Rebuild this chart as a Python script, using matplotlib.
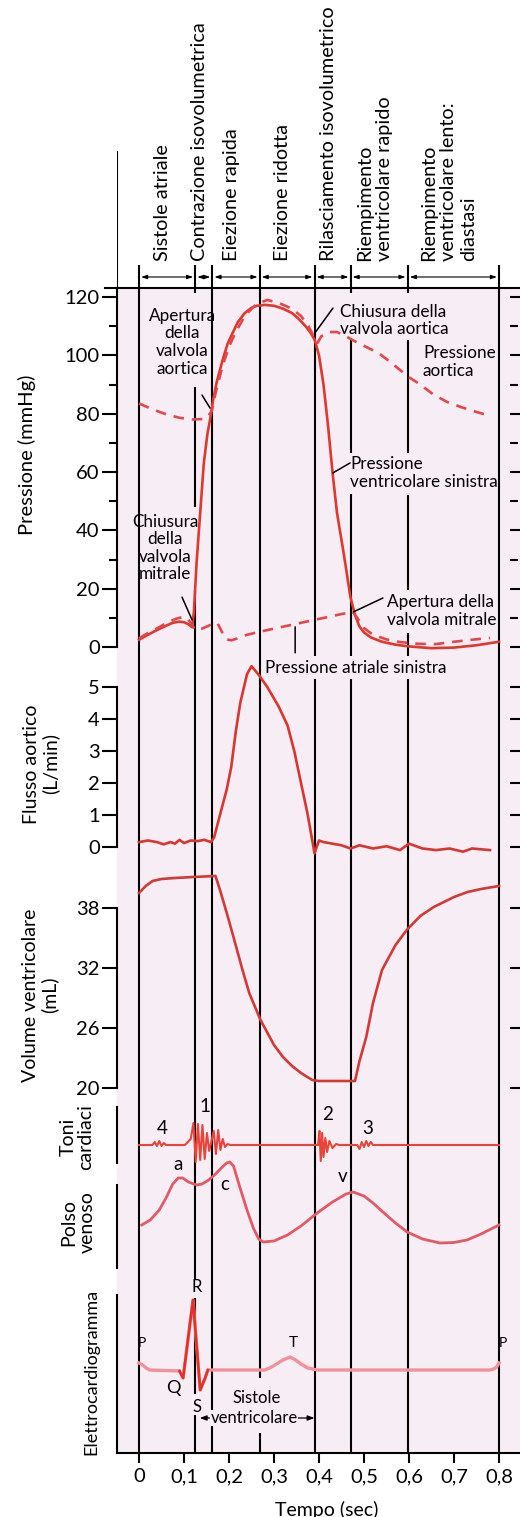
import matplotlib.pyplot as plt
from matplotlib.patches import Rectangle

plt.rcParams['font.family'] = ['Lato', 'DejaVu Sans']

W, H = 520, 1517
T0_PX, PX_PER_S = 139, 450      # horizontal time scale shared by every panel
LEFT_PX, RIGHT_PX = 117, 520
BG = '#f7edf4'
RED = '#e0382d'

# cardiac cycle phases (s)
phase_t = [0, 0.125, 0.163, 0.268, 0.39, 0.47, 0.597, 0.8]
phase_names = ['Sistole atriale', 'Contrazione isovolumetrica', 'Eiezione rapida',
               'Eiezione ridotta', 'Rilasciamento isovolumetrico',
               'Riempimento\nventricolare rapido',
               'Riempimento\nventricolare lento:\ndiastasi']
# vertical gaps (px) left in each phase line where labels sit
phase_gaps = [[], [(293, 387), (507, 590), (1280, 1298), (1394, 1415)], [],
              [(1378, 1433)], [(656, 679)],
              [(293, 340), (453, 494), (656, 679)],
              [(293, 340), (453, 495), (590, 633), (656, 679)], []]

# left ventricular pressure (mmHg)
lv_t = [0.0, 0.02, 0.04, 0.06, 0.075, 0.09, 0.1, 0.11, 0.118, 0.122, 0.128, 0.136,
        0.144, 0.152, 0.158, 0.165, 0.173, 0.185, 0.197, 0.209, 0.22, 0.235, 0.25,
        0.262, 0.28, 0.3, 0.32, 0.34, 0.355, 0.37, 0.38, 0.39, 0.4, 0.41, 0.42, 0.43,
        0.44, 0.455, 0.47, 0.48, 0.49, 0.5, 0.515, 0.54, 0.57, 0.6, 0.65, 0.7, 0.75, 0.8]
lv_p = [2.5, 4.2, 5.8, 7.3, 8.3, 8.7, 8.5, 7.8, 6.8, 12, 29, 46,
        63, 73, 78, 85, 91, 98, 104, 108, 111.5, 114.5, 116.3,
        117, 117.3, 117, 116, 114.5, 112.5, 110, 108, 105.5, 100, 90, 76, 60,
        46, 32, 17, 11, 7, 5, 3.3, 1.8, 0.8, 0.2, -0.4, -0.2, 0.6, 1.8]

# aortic pressure (mmHg)
ao_t = [0.0, 0.03, 0.06, 0.09, 0.12, 0.145, 0.155, 0.162, 0.17, 0.185, 0.2, 0.215,
        0.235, 0.26, 0.285, 0.31, 0.34, 0.36, 0.375, 0.385, 0.392, 0.397, 0.405,
        0.42, 0.44, 0.46, 0.48, 0.51, 0.535, 0.56, 0.58, 0.6, 0.62, 0.655, 0.685,
        0.715, 0.745, 0.775]
ao_p = [83.5, 81.5, 79.8, 78.6, 78, 78.2, 79.5, 81, 87, 96, 103, 108,
        113.5, 117.5, 119, 118, 116, 113.5, 110.5, 107.5, 105, 104.3, 106.5,
        108, 108, 106.5, 104.8, 102.5, 100.5, 97.5, 95, 92.5, 90.5, 86.5, 84,
        82.3, 80.8, 79.5]

# left atrial pressure (mmHg)
la_t = [0.0, 0.02, 0.045, 0.065, 0.085, 0.098, 0.108, 0.118, 0.125, 0.14, 0.155,
        0.168, 0.175, 0.185, 0.195, 0.205, 0.22, 0.24, 0.27, 0.3, 0.33, 0.36, 0.39,
        0.42, 0.45, 0.475, 0.485, 0.5, 0.52, 0.55, 0.58, 0.62, 0.66, 0.7, 0.74, 0.78]
la_p = [3, 4.8, 6.8, 8.6, 9.8, 10.3, 9.8, 7.5, 5.8, 6.3, 7.3,
        8.4, 8, 5, 2.6, 2.3, 3, 4.2, 5.3, 6.3, 7.3, 8.3, 9.3,
        10.3, 11.3, 12, 10, 6.5, 4.2, 2.6, 1.7, 1.1, 1.0, 1.8, 2.5, 3.1]

# aortic flow (L/min)
fl_t = [0.0, 0.02, 0.04, 0.055, 0.07, 0.08, 0.09, 0.1, 0.115, 0.13, 0.145, 0.16,
        0.167, 0.18, 0.195, 0.205, 0.215, 0.225, 0.24, 0.25, 0.265, 0.285, 0.31,
        0.33, 0.345, 0.36, 0.375, 0.39, 0.4, 0.41, 0.43, 0.45, 0.47, 0.49, 0.52,
        0.55, 0.58, 0.6, 0.63, 0.66, 0.69, 0.72, 0.74, 0.78]
fl_v = [0.15, 0.2, 0.15, 0.08, 0.15, 0.1, 0.22, 0.12, 0.2, 0.18, 0.22, 0.15,
        0.3, 1.0, 1.8, 2.5, 3.6, 4.5, 5.4, 5.65, 5.4, 5.0, 4.4,
        3.8, 3.0, 2.0, 1.0, -0.2, 0.2, 0.15, 0.1, 0.05, -0.05, 0.05, -0.05,
        0.02, -0.1, 0.1, -0.05, -0.1, -0.05, -0.15, -0.05, -0.1]

# ventricular volume (mL)
vol_t = [0.0, 0.015, 0.03, 0.05, 0.08, 0.12, 0.17, 0.18, 0.195, 0.21, 0.23, 0.245,
         0.27, 0.3, 0.32, 0.34, 0.36, 0.385, 0.4, 0.48, 0.49, 0.505, 0.52, 0.54,
         0.57, 0.595, 0.625, 0.655, 0.7, 0.73, 0.76, 0.8]
vol_v = [39.5, 40.2, 40.7, 40.9, 41.0, 41.1, 41.2, 39.8, 37.5, 35.1, 31.8, 29.5,
         26.8, 24.3, 23.1, 22.2, 21.5, 20.8, 20.7, 20.7, 22.7, 25.1, 28.5, 31.8,
         34.3, 35.8, 37.2, 38.1, 39.1, 39.6, 39.9, 40.2]

# phonocardiogram (arbitrary units)
phono_t = [0.0, 0.03, 0.035, 0.04, 0.045, 0.05, 0.055, 0.06,
           0.102, 0.115, 0.121, 0.126, 0.131, 0.136, 0.141, 0.146, 0.151, 0.156,
           0.161, 0.166, 0.171, 0.176, 0.181, 0.186, 0.191, 0.197, 0.203,
           0.398, 0.401, 0.404, 0.407, 0.41, 0.414, 0.418, 0.423, 0.43, 0.438, 0.445,
           0.485, 0.49, 0.495, 0.5, 0.505, 0.51, 0.515, 0.52, 0.8]
phono_a = [0, 0, 3, -1, 4, -1, 2, 0,
           0, 6, 22, -17, 21, -15, 20, -14, 12, -6,
           4, 14, -9, 15, -5, 6, -2, 1, 0,
           0, 14, -16, 12, -12, 7, -7, 4, -3, 1, 0,
           0, -4, 3, -2, 4, -1, 3, 0, 0]
sound_labels = [('4', 0.051, 17), ('1', 0.147, 38), ('2', 0.418, 30), ('3', 0.509, 17)]

# jugular venous pulse (arbitrary units)
vp_t = [0.006, 0.025, 0.045, 0.06, 0.075, 0.087, 0.097, 0.11, 0.128, 0.14, 0.155,
        0.17, 0.185, 0.195, 0.202, 0.21, 0.224, 0.24, 0.254, 0.266, 0.276, 0.3,
        0.33, 0.36, 0.396, 0.43, 0.46, 0.476, 0.5, 0.52, 0.542, 0.57, 0.596, 0.63,
        0.669, 0.7, 0.729, 0.76, 0.8]
vp_v = [25, 30, 40, 52, 66, 72, 72, 68, 65, 66, 70,
        76, 83, 87, 88, 84, 63, 40, 22, 11, 8, 9,
        15, 24, 37, 48, 56, 58, 54, 47, 38, 27, 18, 11,
        7, 7.5, 10, 16, 25]
vp_labels = [('a', 0.087, 85), ('c', 0.191, 65), ('v', 0.453, 73)]

# electrocardiogram (arbitrary units)
ecg_t = [0.0, 0.008, 0.016, 0.024, 0.09, 0.098, 0.12, 0.136, 0.147, 0.153, 0.28,
         0.29, 0.302, 0.32, 0.336, 0.348, 0.36, 0.375, 0.396, 0.78, 0.788, 0.795, 0.8]
ecg_v = [7, 5, 2, 0, -1, -8, 70, -20, -8, 0, 0,
         2, 5, 10, 13, 10, 6, 2, 0, 0, 1, 3, 7]
ecg_labels = [('P', 0.007, 27, 10), ('Q', 0.076, -18, 13), ('R', 0.129, 83, 12),
              ('S', 0.129, -37, 12), ('T', 0.342, 27, 11), ('P', 0.809, 27, 10)]

time_ticks = [0, 0.1, 0.2, 0.3, 0.4, 0.5, 0.6, 0.7, 0.8]
time_labels = ['0', '0,1', '0,2', '0,3', '0,4', '0,5', '0,6', '0,7', '0,8']


def px_to_t(x):
    return (x - T0_PX) / PX_PER_S


XLIM = (px_to_t(LEFT_PX), px_to_t(RIGHT_PX))

fig = plt.figure(figsize=(W / 100, H / 100), dpi=100)


def fig_text(x, y, s, **kw):
    fig.text(x / W, 1 - y / H, s, ha='center', va='center',
             multialignment='center', **kw)


def panel(top, bottom, ylim):
    ax = fig.add_axes([LEFT_PX / W, 1 - bottom / H,
                       (RIGHT_PX - LEFT_PX) / W, (bottom - top) / H], zorder=1)
    ax.set_xlim(*XLIM)
    ax.set_ylim(*ylim)
    ax.patch.set_visible(False)
    for s in ['top', 'right', 'bottom']:
        ax.spines[s].set_visible(False)
    ax.spines['left'].set_linewidth(1.5)
    ax.set_xticks([])
    ax.tick_params(axis='y', which='major', length=10.5, width=1.5, labelsize=14.5, pad=2)
    ax.tick_params(axis='y', which='minor', length=6, width=1.5)
    return ax


def right_ticks(ax):
    ax.spines['right'].set_position(('axes', (510 - LEFT_PX) / (RIGHT_PX - LEFT_PX)))
    ax.tick_params(axis='y', which='both', right=True, labelright=False)


# background layer: pink field, frame, phase lines and header
ov = fig.add_axes([LEFT_PX / W, 0, (RIGHT_PX - LEFT_PX) / W, 1], zorder=0)
ov.set_xlim(*XLIM)
ov.set_ylim(H, 0)
ov.axis('off')
ov.add_patch(Rectangle((XLIM[0], 288), XLIM[1] - XLIM[0], 1453 - 288,
                       fc=BG, ec='none', zorder=0))
ov.plot([px_to_t(105), XLIM[1]], [288, 288], color='k', lw=1.5, clip_on=False)
ov.plot([XLIM[0], XLIM[0]], [152, 288], color='k', lw=1.5)

for t, gaps in zip(phase_t, phase_gaps):
    y0 = 265
    for g0, g1 in gaps + [(1453, 1453)]:
        ov.plot([t, t], [y0, g0], color='k', lw=1.5, solid_capstyle='butt')
        y0 = g1

for a, b, name in zip(phase_t[:-1], phase_t[1:], phase_names):
    ov.annotate('', xy=(b, 277), xytext=(a, 277),
                arrowprops=dict(arrowstyle='<|-|>,head_length=0.35,head_width=0.12',
                                lw=0.8, color='k', shrinkA=1.5, shrinkB=1.5))
    ov.text((a + b) / 2 - 0.01, 261, name, rotation=90, ha='center', va='bottom',
            multialignment='left', fontsize=14.3, linespacing=1.2)

# pressures
axp = panel(288, 662, (-5.14, 123.09))
axp.plot(lv_t, lv_p, color=RED, lw=1.9)
axp.plot(ao_t, ao_p, color='#e2474c', lw=1.9, ls=(0, (4, 3)))
axp.plot(la_t, la_p, color='#e2474c', lw=1.9, ls=(0, (4, 3)))
axp.set_yticks(range(0, 121, 20))
axp.set_yticks(range(10, 120, 20), minor=True)
axp.spines['left'].set_bounds(0, 123.09)
right_ticks(axp)

note = dict(fontsize=12.3, linespacing=1.12)
lead = dict(arrowstyle='-', color='k', lw=1.1, shrinkA=0, shrinkB=0)
axp.text(0.096, 104.5, 'Apertura\ndella\nvalvola\naortica', ha='center', va='center',
         multialignment='center', **note)
axp.annotate('', xy=(0.158, 81.9), xytext=(0.14, 86.4), arrowprops=lead)
axp.text(0.447, 112, 'Chiusura della\nvalvola aortica', ha='left', va='center', **note)
axp.annotate('', xy=(0.391, 107.7), xytext=(0.431, 116.2), arrowprops=lead)
axp.text(0.631, 97.7, 'Pressione\naortica', ha='left', va='center', **note)
axp.text(0.469, 59.7, 'Pressione\nventricolare sinistra', ha='left', va='center', **note)
axp.annotate('', xy=(0.431, 59.7), xytext=(0.469, 63.1), arrowprops=lead)
axp.text(0.058, 34, 'Chiusura\ndella\nvalvola\nmitrale', ha='center', va='center',
         multialignment='center', **note)
axp.annotate('', xy=(0.118, 9.3), xytext=(0.0956, 17.1), arrowprops=lead)
axp.text(0.551, 12.3, 'Apertura della\nvalvola mitrale', ha='left', va='center', **note)
axp.annotate('', xy=(0.476, 12), xytext=(0.542, 16.8), arrowprops=lead)
axp.text(0.28, -7.2, 'Pressione atriale sinistra', ha='left', va='center', **note)
axp.annotate('', xy=(0.347, 6.9), xytext=(0.347, -2), arrowprops=lead,
             annotation_clip=False)

# aortic flow
axf = panel(655, 860, (-0.41, 6.0))
axf.plot(fl_t, fl_v, color='#d8362f', lw=1.9)
axf.set_yticks(range(0, 6))
axf.spines['left'].set_bounds(0, 5)
right_ticks(axf)

# ventricular volume
axv = panel(862, 1095, (19.3, 42.6))
axv.plot(vol_t, vol_v, color='#d13a35', lw=1.9)
axv.set_yticks([20, 26, 32, 38])
axv.spines['left'].set_bounds(20, 38)
right_ticks(axv)

# heart sounds
axs = panel(1097, 1172, (-27, 48))
axs.plot(phono_t, phono_a, color='#e8443a', lw=1.5)
axs.set_yticks([])
axs.spines['left'].set_bounds(-18, 38)
for s, t, y in sound_labels:
    axs.text(t, y, s, ha='center', va='center', fontsize=13.5)

# venous pulse
axj = panel(1150, 1280, (-30, 100))
axj.plot(vp_t, vp_v, color='#e25a66', lw=2.0)
axj.set_yticks([])
axj.spines['left'].set_bounds(-18, 65)
for s, t, y in vp_labels:
    axj.text(t, y, s, ha='center', va='center', fontsize=13.5)

# electrocardiogram
axe = panel(1280, 1453, (-83, 90))
axe.plot(ecg_t, ecg_v, color='#f0919b', lw=2.4)
axe.plot(ecg_t[4:10], ecg_v[4:10], color='#e53026', lw=1.9)
axe.set_yticks([])
axe.spines['left'].set_bounds(-83, 75)
axe.spines['bottom'].set_visible(True)
axe.spines['bottom'].set_linewidth(1.5)
axe.set_xticks(time_ticks)
axe.set_xticklabels(time_labels)
axe.tick_params(axis='x', length=7, width=1.5, labelsize=14.5, pad=4)
for s, t, y, fs in ecg_labels:
    axe.text(t, y, s, ha='center', va='center', fontsize=fs)
axe.annotate('', xy=(phase_t[4], -48), xytext=(phase_t[1] + 0.01, -48),
             arrowprops=dict(arrowstyle='<|-|>,head_length=0.4,head_width=0.15',
                             lw=0.9, color='k', shrinkA=0, shrinkB=0))
mid = (phase_t[1] + phase_t[4]) / 2
axe.text(mid + 0.004, -28, 'Sistole', ha='center', va='center', fontsize=12)
axe.text(mid - 0.002, -48, 'ventricolare', ha='center', va='center', fontsize=12,
         bbox=dict(fc=BG, ec='none', pad=0.3))

# axis titles
fig_text(27, 455, 'Pressione (mmHg)', rotation=90, fontsize=14.5)
fig_text(41, 764, 'Flusso aortico\n(L/min)', rotation=90, fontsize=14, linespacing=1.05)
fig_text(40, 995, 'Volume ventricolare\n(mL)', rotation=90, fontsize=14, linespacing=1.05)
fig_text(77, 1137, 'Toni\ncardiaci', rotation=90, fontsize=14, linespacing=1.05)
fig_text(78, 1222, 'Polso\nvenoso', rotation=90, fontsize=14, linespacing=1.05)
fig_text(91, 1372, 'Elettrocardiogramma', rotation=90, fontsize=13)
fig_text(327, 1510, 'Tempo (sec)', fontsize=14)

fig.savefig('out.png', dpi=100, facecolor='white')
